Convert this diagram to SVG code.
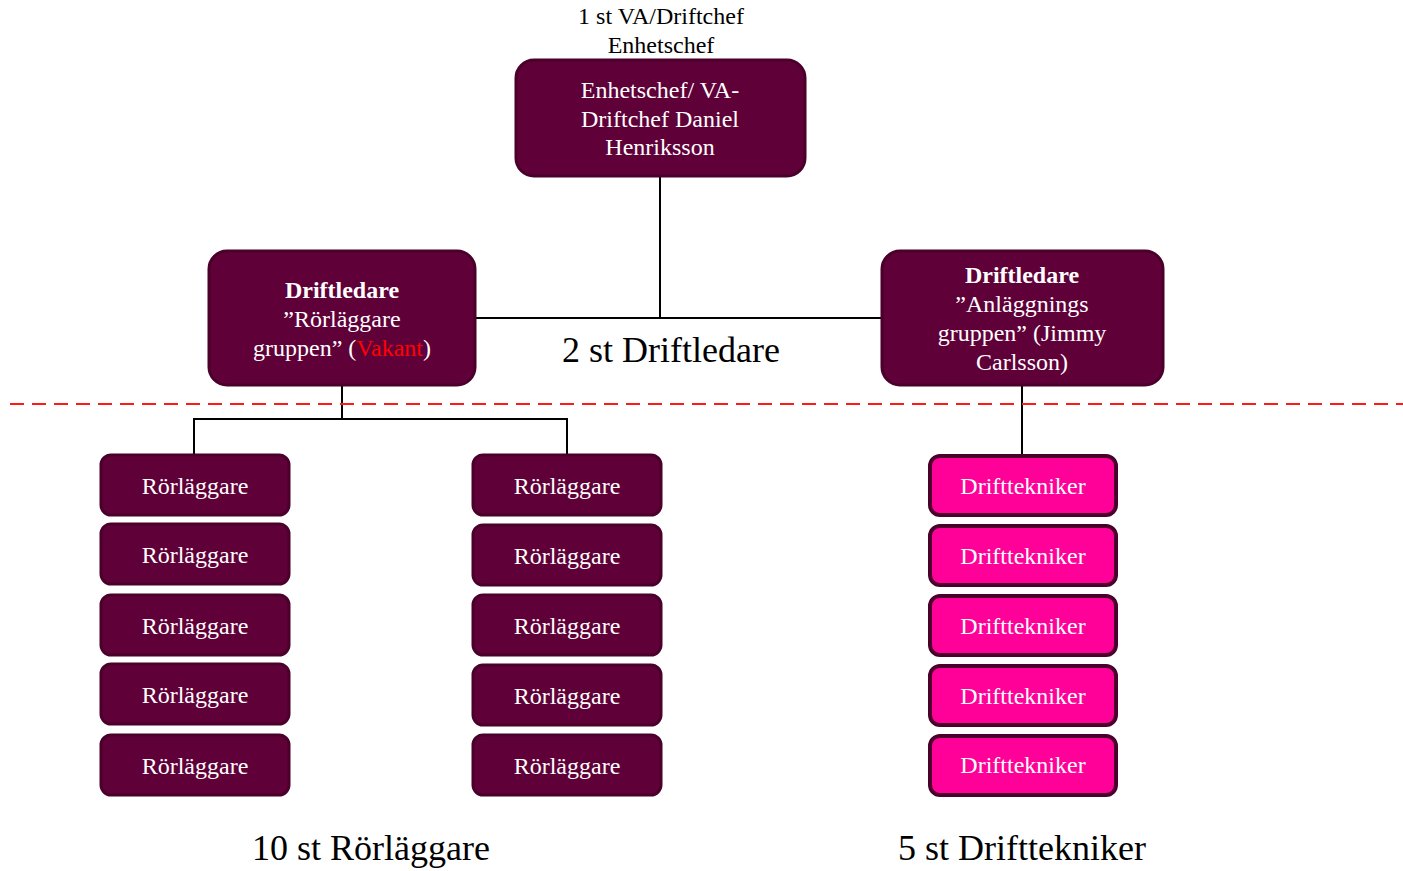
<svg xmlns="http://www.w3.org/2000/svg" width="1403" height="871" viewBox="0 0 1403 871">
<style>
text{font-family:"Liberation Serif","Times New Roman",serif;text-anchor:middle}
.box{fill:#600038;stroke:#4a002a;stroke-width:3}
.pink{fill:#ff0099;stroke:#4a002a;stroke-width:4}
.w{fill:#ffffff;font-size:24px}
.b{font-weight:bold}
.lbl{fill:#000;font-size:24px}
.big{fill:#000;font-size:36px}
.con{stroke:#000;stroke-width:2;fill:none}
</style>
<rect width="1403" height="871" fill="#fff"/>
<text class="lbl" x="661" y="24">1 st VA/Driftchef</text>
<text class="lbl" x="661" y="53">Enhetschef</text>
<g id="connectors">
<path class="con" d="M660 177V318M476 318H881M342 386V419M194 454V419H567V454M1022 386V455"/>
</g>
<line x1="10" y1="404" x2="1403" y2="404" stroke="#ff1a1a" stroke-width="2" stroke-dasharray="14 8"/>
<g id="top"><rect class="box" x="516" y="60" width="289" height="116" rx="18"/>
<text class="w" x="660" y="98">Enhetschef/ VA-</text><text class="w" x="660" y="127">Driftchef Daniel</text><text class="w" x="660" y="155">Henriksson</text></g>
<g id="dl1"><rect class="box" x="209" y="251" width="266" height="134" rx="18"/>
<text class="w b" x="342" y="298">Driftledare</text><text class="w" x="342" y="327">”Rörläggare</text><text class="w" x="342" y="356">gruppen” (<tspan fill="#ff0000">Vakant</tspan>)</text></g>
<g id="dl2"><rect class="box" x="882" y="251" width="281" height="134" rx="18"/>
<text class="w b" x="1022" y="283">Driftledare</text><text class="w" x="1022" y="312">”Anläggnings</text><text class="w" x="1022" y="341">gruppen” (Jimmy</text><text class="w" x="1022" y="370">Carlsson)</text></g>
<text class="big" x="671" y="362">2 st Driftledare</text>
<g id="r1"><rect class="box" x="101" y="455" width="188" height="60" rx="10"/><text class="w" x="195" y="494">Rörläggare</text></g>
<g id="r2"><rect class="box" x="101" y="524" width="188" height="60" rx="10"/><text class="w" x="195" y="563">Rörläggare</text></g>
<g id="r3"><rect class="box" x="101" y="595" width="188" height="60" rx="10"/><text class="w" x="195" y="634">Rörläggare</text></g>
<g id="r4"><rect class="box" x="101" y="664" width="188" height="60" rx="10"/><text class="w" x="195" y="703">Rörläggare</text></g>
<g id="r5"><rect class="box" x="101" y="735" width="188" height="60" rx="10"/><text class="w" x="195" y="774">Rörläggare</text></g>
<g id="r6"><rect class="box" x="473" y="455" width="188" height="60" rx="10"/><text class="w" x="567" y="494">Rörläggare</text></g>
<g id="r7"><rect class="box" x="473" y="525" width="188" height="60" rx="10"/><text class="w" x="567" y="564">Rörläggare</text></g>
<g id="r8"><rect class="box" x="473" y="595" width="188" height="60" rx="10"/><text class="w" x="567" y="634">Rörläggare</text></g>
<g id="r9"><rect class="box" x="473" y="665" width="188" height="60" rx="10"/><text class="w" x="567" y="704">Rörläggare</text></g>
<g id="r10"><rect class="box" x="473" y="735" width="188" height="60" rx="10"/><text class="w" x="567" y="774">Rörläggare</text></g>
<g id="d1"><rect class="pink" x="930" y="456" width="186" height="59" rx="10"/><text class="w" x="1023" y="494">Drifttekniker</text></g>
<g id="d2"><rect class="pink" x="930" y="526" width="186" height="59" rx="10"/><text class="w" x="1023" y="564">Drifttekniker</text></g>
<g id="d3"><rect class="pink" x="930" y="596" width="186" height="59" rx="10"/><text class="w" x="1023" y="634">Drifttekniker</text></g>
<g id="d4"><rect class="pink" x="930" y="666" width="186" height="59" rx="10"/><text class="w" x="1023" y="704">Drifttekniker</text></g>
<g id="d5"><rect class="pink" x="930" y="736" width="186" height="59" rx="10"/><text class="w" x="1023" y="773">Drifttekniker</text></g>
<text class="big" x="371" y="860">10 st Rörläggare</text>
<text class="big" x="1022" y="860">5 st Drifttekniker</text>
</svg>
